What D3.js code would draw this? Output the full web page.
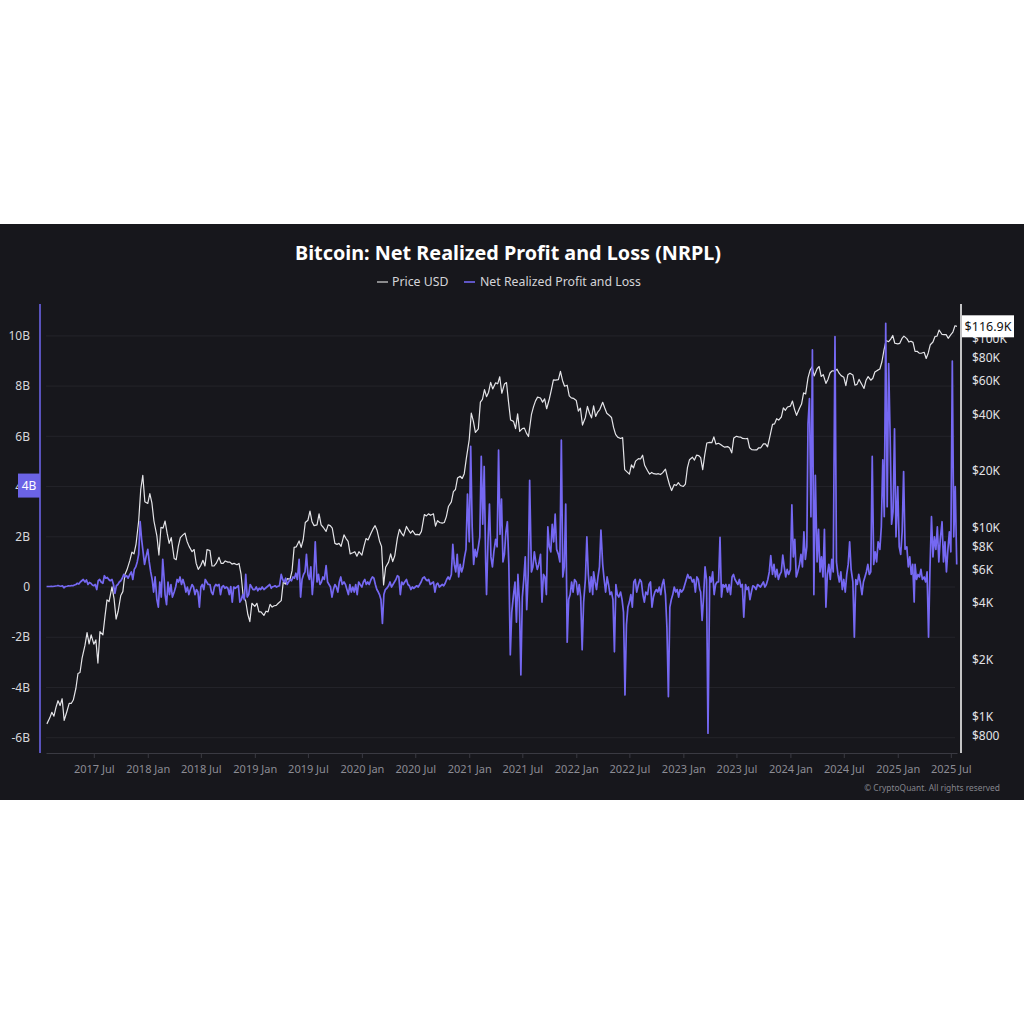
<!DOCTYPE html>
<html>
<head>
<meta charset="utf-8">
<script src="https://cdn.jsdelivr.net/npm/d3@7"></script>
<style>
  html, body { margin: 0; padding: 0; background: #ffffff; }
  svg { display: block; }
  text { font-family: "Noto Sans", "Open Sans", sans-serif; }
</style>
</head>
<body>
<svg id="chart" width="1024" height="1024"></svg>
<script>
// Price USD, four readings per month (days 1, 8, 15, 22)
const priceDays = [1, 8, 15, 22];
const price2017 = [
  [null, null, null, 920], [990, 1060, 1010, 1125], [1220, 1150, 1250, 960], [1080, 1180, 1180, 1230],
  [1420, 1700, 1720, 2050], [2400, 2800, 2440, 2720], [2430, 2560, 1930, 2830], [2720, 3400, 4170, 4080],
  [4890, 4230, 3300, 3630], [4400, 4610, 5680, 6010], [6740, 7460, 7300, 8230], [10900, 16000, 19000, 13800]
];
const price2018 = [
  [13500, 15200, 13600, 10900], [9100, 7200, 10100, 10000], [10900, 9400, 8300, 8900], [6900, 6800, 8000, 8900],
  [9200, 9400, 8500, 8000], [7500, 7700, 6500, 6050], [6350, 6750, 6300, 7700], [7600, 6300, 6300, 6500],
  [7000, 6500, 6500, 6700], [6600, 6600, 6450, 6500], [6400, 6500, 5700, 4400], [4100, 3500, 3200, 4000]
];
const price2019 = [
  [3850, 4000, 3600, 3600], [3450, 3630, 3600, 3950], [3820, 3880, 3900, 4000], [4130, 5200, 5050, 5400],
  [5350, 5950, 7900, 7950], [8550, 7900, 8700, 10700], [11000, 12300, 10800, 10300], [10400, 11900, 10400, 10100],
  [9600, 10400, 10300, 10000], [8300, 8200, 8300, 8000], [9200, 8800, 8500, 7300], [7400, 7500, 7100, 7500]
];
const price2020 = [
  [7200, 8000, 8800, 8650], [9400, 9900, 10300, 9700], [8550, 8000, 5000, 6200], [6600, 7300, 6650, 7130],
  [8850, 9850, 9400, 9080], [10200, 9750, 9400, 9680], [9230, 9260, 9200, 9600], [11800, 11600, 11900, 11680],
  [11900, 10250, 10950, 10700], [10620, 10700, 11500, 13000], [13750, 15600, 16000, 18400], [18800, 18300, 19400, 23300]
];
const price2021 = [
  [29400, 40600, 36800, 32100], [33500, 46400, 48000, 54000], [49600, 52400, 59000, 54500], [58700, 58000, 63200, 51700],
  [57800, 58900, 46400, 37300], [36700, 33600, 40200, 32500], [33600, 33800, 31800, 30500], [39800, 43800, 47100, 49300],
  [48800, 46400, 48300, 42800], [48200, 53900, 60800, 60700], [61000, 67500, 60400, 56300], [57000, 50100, 48900, 48600]
];
const price2022 = [
  [47300, 41600, 43100, 35100], [38500, 44100, 40500, 38300], [44400, 39000, 41100, 42400], [46300, 43200, 40500, 39700],
  [38500, 34100, 31300, 30300], [29800, 30100, 20400, 19900], [19300, 21600, 20800, 22600], [23300, 23200, 24300, 21500],
  [20100, 19300, 19700, 19400], [19300, 19400, 19200, 19600], [20500, 18500, 16900, 15800], [17000, 16800, 17400, 16800]
];
const price2023 = [
  [16600, 17100, 20900, 23000], [23700, 22900, 24300, 24200], [23600, 20400, 24400, 28200], [28400, 28300, 30400, 27800],
  [28100, 27700, 27200, 26800], [27000, 26500, 25000, 30000], [30600, 30400, 30300, 29800], [29700, 29800, 26600, 26000],
  [25900, 25900, 26600, 26600], [27900, 27900, 26900, 30000], [35400, 35600, 37900, 37300], [38700, 43300, 42000, 43700]
];
const price2024 = [
  [44200, 47000, 42500, 39500], [43100, 45300, 51900, 51300], [62400, 68300, 71400, 63800], [69700, 71600, 63400, 64900],
  [58300, 61200, 66200, 67900], [67800, 69300, 66000, 64100], [62900, 56700, 64800, 65900], [64600, 57000, 57600, 61200],
  [57300, 54800, 60600, 63300], [60600, 62100, 67000, 68100], [69500, 75900, 87500, 98300], [96900, 100000, 104500, 95100]
];
const price2025 = [
  [94400, 95000, 100500, 103700], [100600, 96500, 97500, 96100], [86000, 86200, 84300, 84200], [85200, 79000, 84500, 93400],
  [96500, 103200, 103700, 111700], [105800, 105700, 105600, 101000], [105700, 108900, 117700, 116900]
];

// Net Realized Profit and Loss in billions USD, six readings per month (days 1, 6, 11, 16, 21, 26)
const nrplDays = [1, 6, 11, 16, 21, 26];
const nrpl2017 = [
  [null, null, null, null, 0.02, 0.02], [0.02, 0.03, 0.02, 0.03, 0.04, 0.05], [0.06, 0.04, 0.03, 0.05, -0.03, 0.02],
  [0.03, 0.05, 0.04, 0.06, 0.05, 0.08], [0.1, 0.15, 0.12, 0.2, 0.25, 0.3], [0.2, 0.28, 0.1, 0.18, 0.15, 0.08],
  [0.05, 0.1, -0.1, 0.25, 0.3, 0.2], [0.15, 0.45, 0.35, 0.38, 0.3, 0.25], [0.3, 0.1, -0.25, 0.05, 0.1, 0.2],
  [0.25, 0.35, 0.5, 0.4, 0.45, 0.35], [0.5, 0.6, 0.3, 0.7, 0.8, 1.0], [1.3, 2.6, 1.9, 1.4, 0.9, 1.2]
];
const nrpl2018 = [
  [1.5, 1.0, 0.6, 0.3, -0.2, 0.4], [-0.5, -0.8, 0.2, -0.4, 1.1, 0.3], [-0.3, -0.7, 0.2, -0.3, 0.1, -0.4],
  [-0.2, 0.0, 0.3, 0.2, 0.4, 0.1], [0.3, 0.1, -0.2, 0.0, -0.3, -0.1], [0.1, 0.0, -0.3, -0.1, -0.2, -0.8],
  [0.0, 0.1, -0.1, 0.3, 0.2, 0.1], [0.1, -0.2, -0.3, 0.0, 0.1, 0.05], [0.1, -0.3, 0.0, 0.05, -0.05, 0.0],
  [-0.05, -0.3, 0.02, -0.6, 0.0, -0.05], [0.0, 0.05, -0.6, -0.5, -0.3, -0.5], [0.5, -0.4, -0.3, 0.1, 0.0, -0.1]
];
const nrpl2019 = [
  [-0.1, 0.0, -0.15, -0.05, -0.1, 0.0], [-0.1, -0.05, 0.0, 0.05, 0.1, -0.05], [0.0, 0.02, 0.05, 0.0, 0.03, 0.05],
  [0.5, 0.3, 0.2, 0.35, 0.1, 0.2], [0.3, 0.25, 0.4, 0.35, 0.55, 0.3], [1.1, -0.4, 0.3, 0.5, 0.6, 1.3],
  [0.5, 0.3, 0.8, -0.3, 0.4, 1.8], [0.2, 0.5, 0.1, 0.2, 0.4, 0.3], [0.85, 0.2, 0.1, 0.0, -0.4, -0.1],
  [0.1, 0.0, -0.2, 0.2, 0.4, 0.1], [0.2, 0.1, -0.1, -0.3, 0.1, -0.2], [0.0, -0.2, 0.1, -0.3, 0.2, 0.1]
];
const nrpl2020 = [
  [0.0, 0.2, 0.3, 0.1, 0.2, 0.1], [0.3, 0.4, 0.35, 0.1, -0.1, -0.2], [-0.3, -0.5, -1.45, -0.3, -0.1, -0.05],
  [0.05, 0.2, 0.0, 0.1, 0.2, 0.3], [0.45, 0.4, -0.3, 0.2, 0.1, 0.2], [0.3, 0.1, 0.05, -0.1, 0.0, -0.05],
  [0.0, 0.05, 0.0, 0.1, 0.2, 0.35], [0.4, 0.3, 0.25, 0.3, 0.1, 0.15], [0.2, -0.2, 0.1, 0.15, 0.0, 0.05],
  [0.1, 0.05, 0.15, 0.3, 0.4, 0.3], [0.5, 1.7, 0.9, 0.6, 1.3, 0.4], [0.9, 0.6, 0.8, 1.2, 1.5, 3.7]
];
const nrpl2021 = [
  [1.8, 5.6, 2.4, 0.9, 1.5, 1.2], [1.6, 2.0, 5.2, 2.5, 4.8, 1.0], [-0.3, 1.8, 3.3, 1.2, 0.8, 1.4],
  [1.9, 1.6, 5.45, 2.1, 3.5, 1.0], [1.3, 2.2, 2.6, 0.9, -2.7, -1.0], [-0.3, 0.2, -1.4, 0.5, -0.6, -3.5],
  [-0.4, 0.3, 1.2, -0.9, 0.5, 4.25], [0.6, 0.8, 1.4, 1.0, 0.7, 0.9], [1.3, -0.6, 0.5, 0.4, -0.3, 2.4],
  [1.6, 1.4, 2.5, 1.8, 2.9, 1.5], [1.3, 1.0, 5.85, 0.4, 0.8, 3.3], [-2.2, -0.5, -0.3, 0.2, -0.2, 0.3]
];
const nrpl2022 = [
  [0.2, -0.3, 0.1, -0.4, -2.5, -0.6], [0.3, 2.0, 0.5, -0.2, 0.4, -0.3], [0.6, 0.2, -0.1, 0.4, 0.8, 2.27],
  [0.9, 0.3, -0.2, 0.4, 0.1, -0.3], [-0.2, -0.5, -2.58, 0.1, -0.3, -0.4], [-0.2, -0.5, -1.0, -4.3, -1.5, -0.8],
  [-0.6, -0.3, -0.8, 0.2, 0.3, -0.2], [0.1, 0.3, 0.2, -0.3, -0.6, -0.2], [-0.3, 0.1, 0.2, -0.8, -0.4, -0.2],
  [-0.1, -0.2, 0.0, -0.3, 0.1, 0.3], [-0.3, -1.6, -4.37, -0.8, -0.5, -0.3], [0.0, -0.2, -0.1, -0.4, -0.1, -0.2]
];
const nrpl2023 = [
  [-0.1, 0.1, 0.3, 0.5, 0.35, 0.4], [0.2, 0.3, -0.2, 0.4, 0.3, -0.1], [-0.2, -1.33, -0.4, 0.8, 0.3, -5.82],
  [0.4, 0.2, 0.6, -0.3, 0.1, 0.2], [0.2, 1.98, -0.4, 0.1, 0.0, 0.1], [-0.2, 0.1, -0.3, 0.4, 0.5, 0.3],
  [0.2, 0.1, 0.3, 0.0, 0.1, -1.2], [0.1, -0.1, 0.0, -0.5, -0.2, 0.05], [0.0, -0.1, 0.1, 0.05, 0.0, 0.1],
  [0.2, 0.0, 0.1, 0.3, 0.6, 1.25], [0.5, 0.9, 0.4, 0.7, 0.3, 0.5], [0.6, 1.27, 0.8, 0.4, 0.7, 0.5]
];
const nrpl2024 = [
  [0.7, 3.27, 1.2, 1.9, 0.4, 0.6], [0.9, 1.3, 0.8, 2.2, 1.1, 1.6], [6.5, 7.5, 2.8, 9.44, -0.3, 4.45],
  [1.0, 2.3, 0.6, 1.2, 0.4, 2.3], [-0.8, 0.5, 0.9, 0.3, 1.1, 0.6], [9.97, 1.0, 0.5, 0.2, 0.6, -0.1],
  [0.3, -0.2, 0.5, 0.9, 1.8, 0.7], [0.2, -2.0, 0.3, 0.1, 0.5, 0.2], [-0.3, 0.2, 0.4, 0.6, 0.9, 0.5],
  [0.6, 5.2, 0.9, 1.4, 1.0, 1.8], [1.5, 2.4, 5.06, 2.8, 10.5, 3.2], [8.9, 6.0, 2.5, 3.0, 6.3, 2.0]
];
const nrpl2025 = [
  [4.0, 1.6, 1.3, 2.2, 4.6, 1.5], [1.6, 0.8, 1.2, 0.5, 0.9, -0.6], [0.9, 0.3, 0.5, 0.4, 0.7, 0.3],
  [0.4, 0.2, 0.6, -2.0, 0.8, 2.8], [1.2, 2.0, 1.5, 2.4, 1.0, 1.9], [2.6, 1.0, 1.8, 0.6, 1.5, 2.2],
  [1.4, 9.0, 2.0, 4.0, 0.9, null]
];

const years = [2017, 2018, 2019, 2020, 2021, 2022, 2023, 2024, 2025];
const priceYears = [price2017, price2018, price2019, price2020, price2021, price2022, price2023, price2024, price2025];
const nrplYears = [nrpl2017, nrpl2018, nrpl2019, nrpl2020, nrpl2021, nrpl2022, nrpl2023, nrpl2024, nrpl2025];

const leftTicks = [-6, -4, -2, 0, 2, 4, 6, 8, 10];
const rightTicks = [800, 1000, 2000, 4000, 6000, 8000, 10000, 20000, 40000, 60000, 80000, 100000];

function toSeries(rowsByYear, days) {
  const out = [];
  rowsByYear.forEach((rows, k) => {
    rows.forEach((row, m) => {
      row.forEach((v, i) => {
        if (v == null) return;
        out.push({ date: new Date(Date.UTC(years[k], m, days[i])), value: v });
      });
    });
  });
  return out;
}

const priceData = toSeries(priceYears, priceDays);
const nrplData = toSeries(nrplYears, nrplDays);

const svg = d3.select("#chart");

// panel
svg.append("rect").attr("x", 0).attr("y", 224).attr("width", 1024).attr("height", 576).attr("fill", "#17171c");

const x = d3.scaleUtc()
  .domain([new Date(Date.UTC(2017, 0, 19)), new Date(Date.UTC(2025, 6, 22))])
  .range([46, 957]);
const yLeft = d3.scaleLinear().domain([-6.57, 11.27]).range([752, 304]);
const yRight = d3.scaleLog().domain([653, 153400]).range([752, 304]);

// gridlines
svg.append("g").selectAll("line")
  .data(leftTicks)
  .join("line")
  .attr("x1", 46).attr("x2", 955)
  .attr("y1", d => yLeft(d)).attr("y2", d => yLeft(d))
  .attr("stroke", "#24242a").attr("stroke-width", 1);

// watermark
svg.append("text")
  .attr("x", 500).attr("y", 538)
  .attr("text-anchor", "middle")
  .attr("font-size", 44).attr("font-weight", 600)
  .attr("fill", "#ffffff").attr("fill-opacity", 0.025)
  .text("CryptoQuant");

// title + legend
svg.append("text")
  .attr("x", 508).attr("y", 260)
  .attr("text-anchor", "middle")
  .attr("font-size", 19.8).attr("font-weight", 700)
  .attr("fill", "#ffffff")
  .text("Bitcoin: Net Realized Profit and Loss (NRPL)");

const legend = svg.append("g");
legend.append("line").attr("x1", 377).attr("x2", 388).attr("y1", 282).attr("y2", 282)
  .attr("stroke", "#d8d8d8").attr("stroke-width", 1.2);
legend.append("text").attr("x", 392).attr("y", 286).attr("font-size", 12.3).attr("fill", "#d4d4d8").text("Price USD");
legend.append("line").attr("x1", 464).attr("x2", 475).attr("y1", 282).attr("y2", 282)
  .attr("stroke", "#7366f0").attr("stroke-width", 1.6);
legend.append("text").attr("x", 480).attr("y", 286).attr("font-size", 12.3).attr("fill", "#d4d4d8").text("Net Realized Profit and Loss");

// x axis
const xTicks = d3.utcMonth.every(6).range(new Date(Date.UTC(2017, 6, 1)), new Date(Date.UTC(2025, 6, 2)));
const xAxis = svg.append("g")
  .attr("transform", "translate(0,753)")
  .call(d3.axisBottom(x).tickValues(xTicks).tickFormat(d3.utcFormat("%Y %b")).tickSize(5).tickSizeOuter(0).tickPadding(7));
xAxis.select(".domain").attr("stroke", "#3a3a42");
xAxis.selectAll(".tick line").attr("stroke", "#3a3a42");
xAxis.selectAll(".tick text").attr("fill", "#8c8c94").attr("font-size", 11)
  .attr("font-family", "\"Noto Sans\", sans-serif");

// left axis
svg.append("line").attr("x1", 40).attr("x2", 40).attr("y1", 304).attr("y2", 753)
  .attr("stroke", "#6b63e6").attr("stroke-width", 1.6);
svg.append("g").selectAll("text")
  .data(leftTicks)
  .join("text")
  .attr("x", 30).attr("y", d => yLeft(d)).attr("dy", "0.35em")
  .attr("text-anchor", "end").attr("font-size", 12).attr("fill", "#d6d6da")
  .text(d => d === 0 ? "0" : d + "B");

// right axis
svg.append("line").attr("x1", 961).attr("x2", 961).attr("y1", 304).attr("y2", 753)
  .attr("stroke", "#f0f0f0").attr("stroke-width", 1.6);
svg.append("g").selectAll("text")
  .data(rightTicks)
  .join("text")
  .attr("x", 972).attr("y", d => yRight(d)).attr("dy", "0.35em")
  .attr("font-size", 12).attr("fill", "#e2e2e6")
  .text(d => d >= 1000 ? "$" + d / 1000 + "K" : "$" + d);

// lines
svg.append("clipPath").attr("id", "plotClip")
  .append("rect").attr("x", 42).attr("y", 304).attr("width", 918).attr("height", 448);

svg.append("path")
  .datum(priceData)
  .attr("clip-path", "url(#plotClip)")
  .attr("fill", "none")
  .attr("stroke", "#e4e4e8")
  .attr("stroke-width", 1.2)
  .attr("stroke-linejoin", "round")
  .attr("d", d3.line().x(d => x(d.date)).y(d => yRight(d.value)));

svg.append("path")
  .datum(nrplData)
  .attr("clip-path", "url(#plotClip)")
  .attr("fill", "none")
  .attr("stroke", "#7568f2")
  .attr("stroke-width", 1.7)
  .attr("stroke-linejoin", "round")
  .attr("d", d3.line().x(d => x(d.date)).y(d => yLeft(d.value)));

// last price label
const lastPrice = priceData[priceData.length - 1];
const ly = yRight(lastPrice.value);
svg.append("rect").attr("x", 962).attr("y", ly - 11).attr("width", 52).attr("height", 22).attr("fill", "#ffffff");
svg.append("text").attr("x", 988).attr("y", ly).attr("dy", "0.35em").attr("text-anchor", "middle")
  .attr("font-size", 12.5).attr("fill", "#111111")
  .text("$" + (lastPrice.value / 1000).toFixed(1) + "K");

// crosshair value tag on the left axis
svg.append("rect").attr("x", 18).attr("y", yLeft(4) - 13).attr("width", 22).attr("height", 24).attr("fill", "#6b63e6");
svg.append("text").attr("x", 29).attr("y", yLeft(4) - 1).attr("dy", "0.35em").attr("text-anchor", "middle")
  .attr("font-size", 12).attr("fill", "#ffffff").text("4B");

// footer
svg.append("text").attr("x", 1000).attr("y", 791).attr("text-anchor", "end")
  .attr("font-size", 8.4).attr("fill", "#85858c")
  .text("© CryptoQuant. All rights reserved");
</script>
</body>
</html>
